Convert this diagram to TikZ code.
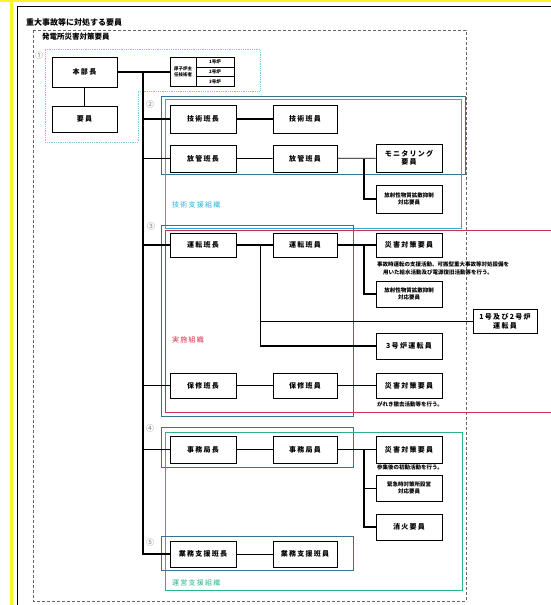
\documentclass[tikz,border=0pt]{standalone}
\usepackage{fontspec}
\newfontfamily\jp{Noto Sans CJK JP}
\newfontfamily\jpwide[LetterSpace=18]{Noto Sans CJK JP}
\definecolor{jcyan}{RGB}{40,175,215}
\definecolor{jred}{RGB}{215,45,75}
\definecolor{jgreen}{RGB}{40,180,140}
\definecolor{jgrp}{RGB}{55,115,145}
\definecolor{jlight}{RGB}{125,200,230}
\definecolor{jyellow}{RGB}{250,245,40}

\begin{document}
\begin{tikzpicture}[x=1pt,y=-1pt,
  post/.style={draw,line width=1pt,fill=white,align=center,inner sep=0pt,
    minimum width=66,minimum height=26,font=\jpwide\bfseries\fontsize{7}{8.5}\selectfont},
  small/.style={font=\jp\bfseries\fontsize{5.5}{7}\selectfont},
  cell/.style={draw,line width=0.8pt,minimum width=38,minimum height=9.67,inner sep=0pt,
    font=\jp\bfseries\fontsize{4.5}{5}\selectfont},
  thk/.style={line width=1.8pt},
  thn/.style={line width=0.7pt},
  grp/.style={draw=jgrp,line width=0.8pt},
  note/.style={anchor=north west,align=left,inner sep=0pt,font=\jp\bfseries\fontsize{5.5}{7.5}\selectfont},
  num/.style={text=gray,inner sep=0pt,font=\jp\fontsize{8}{8}\selectfont},
  orgname/.style={anchor=west,inner sep=0pt,font=\jpwide\fontsize{7}{7}\selectfont}]
  \useasboundingbox (0,0) rectangle (551,605);

  % Page edge
  \fill[jyellow] (10,0) rectangle (13,605);
  \fill[jyellow] (0,0) rectangle (551,2);
  \draw[line width=0.6pt] (17.5,605) -- (17.5,6) -- (551,6);
  \node[anchor=west,inner sep=0pt,font=\jp\bfseries\fontsize{8}{8}\selectfont] (title) at (26,22) {重大事故等に対処する要員};

  % Outer frame
  \draw[gray!80!black,densely dashed,line width=0.8pt] (33,30) rectangle (466,601);
  \node[anchor=west,inner sep=0pt,font=\jp\bfseries\fontsize{7.5}{7.5}\selectfont] (hatsuden) at (42,37) {発電所災害対策要員};

  % Group frames
  \draw[jlight,densely dotted,line width=0.8pt] (45,49) -- (260,49) -- (260,91) -- (138,91) -- (138,142) -- (45,142) -- cycle;
  \draw[grp] (161,96) rectangle (465,174);
  \draw[jcyan,line width=0.8pt] (165,99) rectangle (461,228);
  \draw[grp] (161,225) rectangle (353,416);
  \draw[jred,line width=0.8pt] (165,230) rectangle (560,412);
  \draw[grp] (161,427) rectangle (353,467);
  \draw[jgreen,line width=0.8pt] (165,432) rectangle (462,590);
  \draw[grp] (161,536) rectangle (353,570);

  \node[num] (n1) at (39,55) {①};
  \node[num] (n2) at (150,104) {②};
  \node[num] (n3) at (151,226) {③};
  \node[num] (n4) at (150,428) {④};
  \node[num] (n5) at (150,542) {⑤};
  \node[orgname,text=jcyan] (gishien) at (172,205) {技術支援組織};
  \node[orgname,text=jred] (jisshi) at (172,340) {実施組織};
  \node[orgname,text=jgreen] (uneishien) at (172,583) {運営支援組織};

  % Head
  \node[post,minimum width=65,minimum height=30] (honbu) at (84.5,72) {本部長};
  \node[post,minimum width=65] (youin) at (84.5,119) {要員};
  \node[post,minimum width=26,minimum height=29,font=\jp\bfseries\fontsize{4.5}{5.5}\selectfont] (shunin) at (183,72) {原子炉主\\任技術者};
  \node[cell] (r1) at (215,62.33) {1号炉};
  \node[cell] (r2) at (215,72) {2号炉};
  \node[cell] (r3) at (215,81.67) {3号炉};

  % Technical support
  \node[post,minimum height=28] (gichou) at (203,119) {技術班長};
  \node[post,minimum width=64,minimum height=28] (giin) at (305,119) {技術班員};
  \node[post,minimum height=27] (houchou) at (203,158.5) {放管班長};
  \node[post,minimum width=64,minimum height=27] (houin) at (305,158.5) {放管班員};
  \node[post,minimum height=28] (moni) at (409,158) {モニタリング\\要員};
  \node[post,small,minimum height=28] (kakusan1) at (409,199) {放射性物質拡散抑制\\対応要員};

  % Operation
  \node[post,minimum height=24] (unchou) at (203,245) {運転班長};
  \node[post,minimum width=64,minimum height=24] (unin) at (305,245) {運転班員};
  \node[post,minimum height=24] (saigai1) at (409,245) {災害対策要員};
  \node[note] (memo1) at (377,262) {事故時運転の支援活動、可搬型重大事故等対処設備を\\\hspace{6pt}用いた給水活動及び電源復旧活動等を行う。};
  \node[post,small] (kakusan2) at (409,294) {放射性物質拡散抑制\\対応要員};
  \node[post,minimum width=64,minimum height=24] (unten12) at (505,321.5) {1号及び2号炉\\運転員};
  \node[post] (unten3) at (409,346) {3号炉運転員};
  \node[post,minimum height=25] (hochou) at (203,385.5) {保修班長};
  \node[post,minimum width=64,minimum height=25] (hoin) at (305,385.5) {保修班員};
  \node[post,minimum height=25] (saigai2) at (409,385.5) {災害対策要員};
  \node[note] (memo2) at (377,401) {がれき撤去活動等を行う。};

  % Management support
  \node[post,minimum height=27] (jichou) at (203,449.5) {事務局長};
  \node[post,minimum width=64,minimum height=27] (jiin) at (305,449.5) {事務局員};
  \node[post,minimum height=27] (saigai3) at (409,449.5) {災害対策要員};
  \node[note] (memo3) at (377,465) {参集後の初動活動を行う。};
  \node[post,small] (kinkyu) at (409,488) {緊急時対策所設営\\対応要員};
  \node[post] (shouka) at (409,527) {消火要員};
  \node[post] (gyochou) at (203,554) {業務支援班長};
  \node[post,minimum width=64] (gyoin) at (305,554) {業務支援班員};

  % Connectors
  \coordinate (tr) at (143,72);
  \coordinate (bx) at (364,0);
  \coordinate (ux) at (260,0);
  \draw[thk] (honbu) -- (youin);
  \draw[thk] (honbu.east) -- (shunin.west);
  \draw[thk] (tr) -- (tr |- gyochou) -- (gyochou);
  \draw[thk] (tr |- gichou) -- (gichou);
  \draw[thn] (tr |- houchou) -- (houchou);
  \draw[thk] (tr |- unchou) -- (unchou);
  \draw[thn] (tr |- hochou) -- (hochou);
  \draw[thk] (tr |- jichou) -- (jichou);

  \draw[thk] (gichou) -- (giin);
  \draw[thn] (houchou) -- (houin) -- (moni);
  \draw[thk] (bx |- houin) |- (kakusan1);

  \draw[thk] (unchou) -- (unin) -- (saigai1);
  \draw[thk] (bx |- unin) |- (kakusan2);
  \draw[thn] (ux |- unchou) -- (ux |- unten3);
  \draw[thn] (ux |- unten12) -- (unten12);
  \draw[thk] (ux |- unten3) -- (unten3);
  \draw[thn] (hochou) -- (hoin) -- (saigai2);

  \draw[thk] (jichou) -- (jiin) -- (saigai3);
  \draw[thk] (bx |- jiin) |- (shouka);
  \draw[thn] (bx |- kinkyu) -- (kinkyu);
  \draw[thn] (gyochou) -- (gyoin);
\end{tikzpicture}
\end{document}
